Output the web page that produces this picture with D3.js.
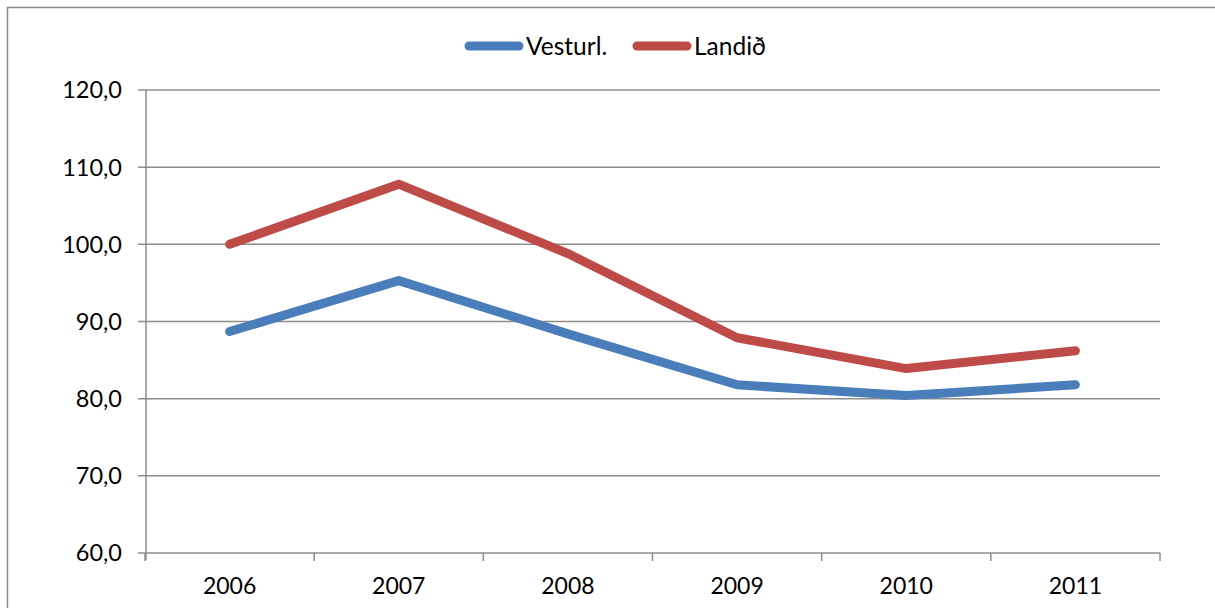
<!DOCTYPE html>
<html><head><meta charset="utf-8">
<script src="https://cdn.jsdelivr.net/npm/d3@7"></script>
<style>body{margin:0;background:#fff}svg{display:block}text{font-family:Lato,"Open Sans",sans-serif;fill:#000}</style>
</head><body>
<svg id="c" width="1215" height="608"></svg>
<script>
const years = ["2006","2007","2008","2009","2010","2011"];
const vesturl = [88.7, 95.3, 88.4, 81.8, 80.4, 81.8];
const landid = [100.0, 107.8, 98.8, 87.9, 83.9, 86.2];
const seriesNames = ["Vesturl.", "Landið"];
const colors = ["#4a7ebb", "#be4b48"];
const yTicks = [60,70,80,90,100,110,120];

const svg = d3.select("#c");
const L=145, R=1160, T=90, B=553;
svg.append("rect").attr("x",7.5).attr("y",7.5).attr("width",1240).attr("height",640)
  .attr("fill","none").attr("stroke","#888").attr("stroke-width",1.5);

const x = d3.scaleBand().domain(years).range([L,R]);
const y = d3.scaleLinear().domain([60,120]).range([B,T]);

svg.append("g").selectAll("line").data(yTicks).join("line")
  .attr("x1",L-7).attr("x2",R).attr("y1",d=>y(d)).attr("y2",d=>y(d))
  .attr("stroke","#8c8c8c").attr("stroke-width",1.5);
svg.append("line").attr("x1",L+1).attr("x2",L+1).attr("y1",T).attr("y2",B+7)
  .attr("stroke","#8c8c8c").attr("stroke-width",1.5);
const xt = years.map((d,i)=>L+i*x.bandwidth()).concat([R]);
svg.append("g").selectAll("line").data(xt).join("line")
  .attr("x1",d=>d).attr("x2",d=>d).attr("y1",B).attr("y2",B+8)
  .attr("stroke","#8c8c8c").attr("stroke-width",1.5);

svg.append("g").selectAll("text").data(yTicks).join("text")
  .attr("x",122).attr("y",d=>y(d)).attr("dy","0.36em").attr("text-anchor","end")
  .attr("font-size",23.5).text(d=>d.toFixed(1).replace(".",","));
svg.append("g").selectAll("text").data(years).join("text")
  .attr("x",d=>x(d)+x.bandwidth()/2).attr("y",594).attr("text-anchor","middle")
  .attr("font-size",23).text(d=>d);

const line = d3.line().x((d,i)=>x(years[i])+x.bandwidth()/2).y(d=>y(d));
[vesturl, landid].forEach((s,i)=>{
  svg.append("path").attr("d",line(s)).attr("fill","none").attr("stroke",colors[i])
    .attr("stroke-width",9).attr("stroke-linecap","round").attr("stroke-linejoin","round");
});

const lg = [{x:469,tx:526},{x:637,tx:694}];
seriesNames.forEach((n,i)=>{
  svg.append("line").attr("x1",lg[i].x).attr("x2",lg[i].x+50).attr("y1",46).attr("y2",46)
    .attr("stroke",colors[i]).attr("stroke-width",9).attr("stroke-linecap","round");
  svg.append("text").attr("x",lg[i].tx).attr("y",46).attr("dy","0.36em").attr("font-size",24.5).text(n);
});
</script>
</body></html>
